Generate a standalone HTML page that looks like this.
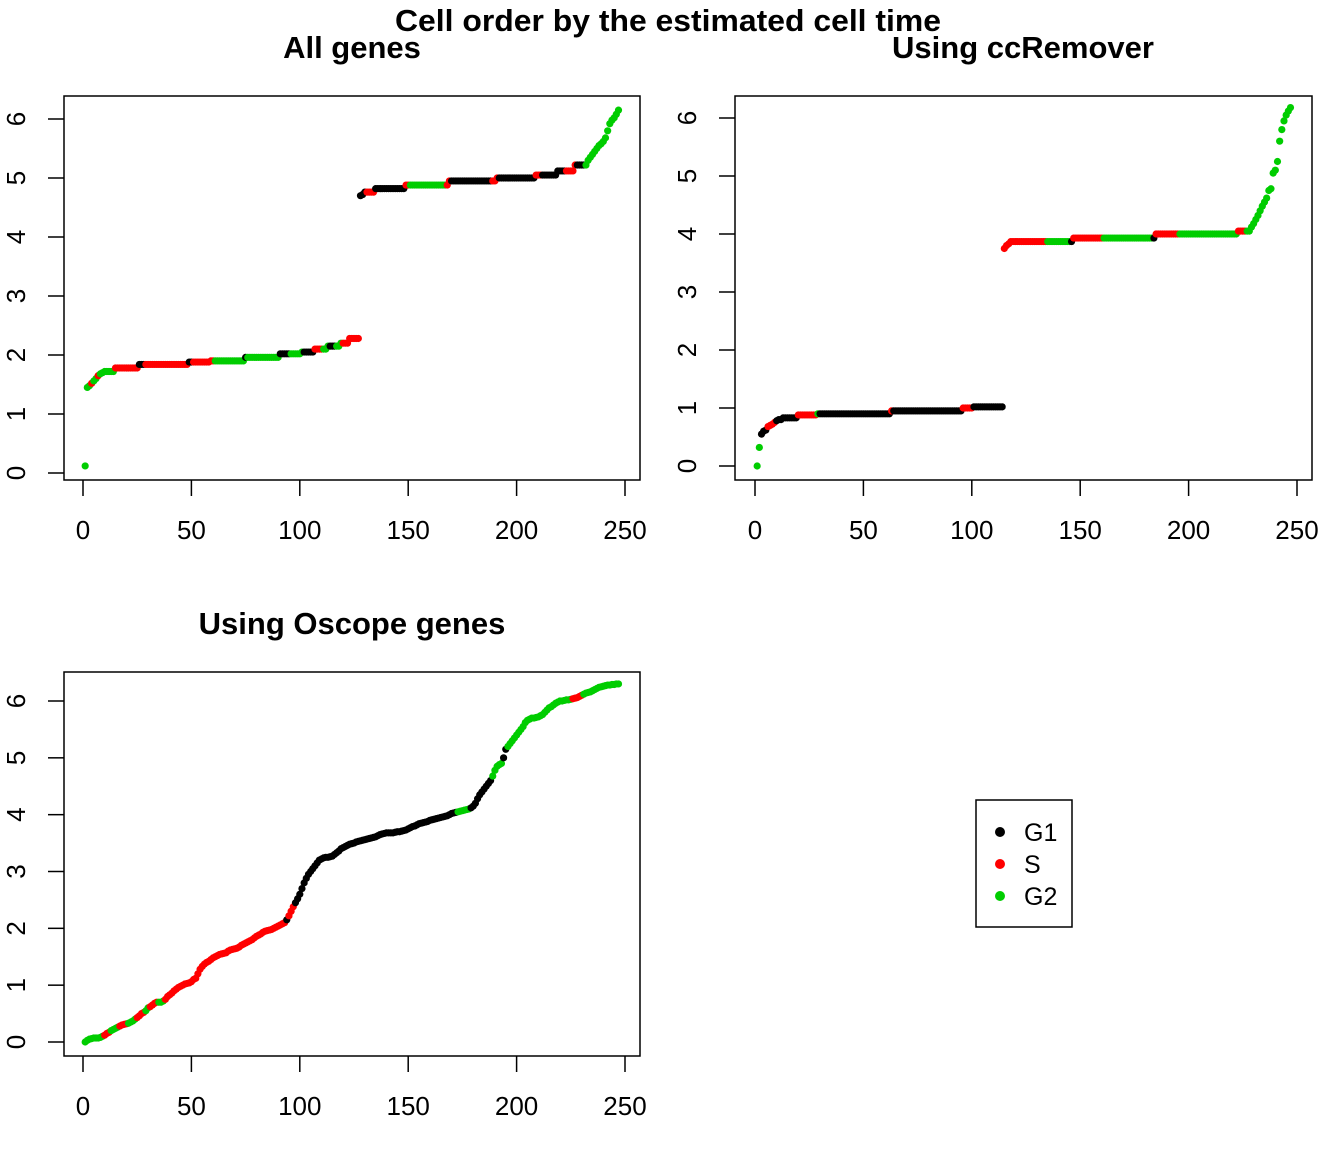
<!DOCTYPE html>
<html><head><meta charset="utf-8"><style>
html,body{margin:0;padding:0;background:#fff;}
svg text{font-family:"Liberation Sans",sans-serif;}
</style></head><body>
<svg id="chart" width="1344" height="1152" viewBox="0 0 1344 1152" xmlns="http://www.w3.org/2000/svg">
<rect width="1344" height="1152" fill="#fff"/>
<text x="668" y="31" font-size="31" font-weight="bold" text-anchor="middle" textLength="546" lengthAdjust="spacingAndGlyphs">Cell order by the estimated cell time</text>
<g>
<rect x="976" y="800" width="96" height="127" fill="#fff" stroke="#000" stroke-width="1.5"/>
<circle cx="1000" cy="832" r="5" fill="#000"/>
<text x="1024" y="841" font-size="25">G1</text>
<circle cx="1000" cy="864" r="5" fill="#FF0000"/>
<text x="1024" y="873" font-size="25">S</text>
<circle cx="1000" cy="896" r="5" fill="#00CD00"/>
<text x="1024" y="905" font-size="25">G2</text>
</g>
</svg>
<script>
// Panel 1 (All genes): run-length encoded values
const p1Values=[0.12,1.45,1.48,1.52,1.56,1.6,1.65,1.68,1.7,1.72,1.78,1.84,1.88,1.9,1.96,2.02,2.05,2.1,2.15,2.2,2.28,4.7,4.72,4.76,4.82,4.88,4.95,5.0,5.05,5.12,5.22,5.3,5.35,5.4,5.45,5.5,5.55,5.58,5.62,5.68,5.8,5.92,5.98,6.02,6.08,6.15];
const p1Counts=[1,1,1,1,1,1,1,1,1,5,11,23,10,16,16,10,6,6,6,4,5,1,1,5,14,20,22,18,10,8,6,1,1,1,1,1,1,1,1,1,1,1,1,1,1,1];
const p1Phases=["G2","G2","S","G2","S","G2","G2","S","B","S","B","S","G2","B","G2","B","G2","B","S","G2","B","G2","S","B","S","B","S","G2","S","B","S","B","S","B","S","B","G2"];
const p1PhaseCounts=[1,2,1,2,1,3,4,11,3,20,2,10,14,1,15,5,6,5,4,3,3,3,8,3,4,14,2,17,2,19,3,17,3,11,5,4,16];
// Panel 2 (ccRemover)
const p2Values=[0,0.32,0.55,0.6,0.62,0.68,0.7,0.72,0.75,0.78,0.8,0.83,0.88,0.9,0.95,1.0,1.02,3.75,3.8,3.83,3.87,3.93,4.0,4.05,4.12,4.18,4.25,4.32,4.4,4.48,4.55,4.62,4.75,4.78,5.05,5.1,5.25,5.6,5.8,5.95,6.05,6.12,6.18];
const p2Counts=[1,1,1,1,1,1,1,1,1,1,2,7,9,34,33,5,14,1,1,1,29,38,38,6,1,1,1,1,1,1,1,1,1,1,1,1,1,1,1,1,1,1,1];
const p2Phases=["G2","B","S","B","S","G2","B","S","B","S","B","S","G2","B","S","G2","B","S","G2","S","G2"];
const p2PhaseCounts=[2,3,4,10,9,1,33,1,32,5,14,20,11,1,14,23,1,11,27,4,21];
// Panel 3 (Oscope genes)
const p3Values=[0,0.03,0.05,0.06,0.07,0.07,0.07,0.08,0.1,0.12,
0.15,0.17,0.2,0.22,0.24,0.26,0.28,0.3,0.31,0.32,
0.33,0.35,0.37,0.4,0.43,0.46,0.5,0.52,0.55,0.6,
0.62,0.65,0.68,0.7,0.7,0.7,0.72,0.75,0.8,0.83,
0.86,0.9,0.93,0.96,0.98,1.0,1.02,1.03,1.04,1.06,
1.1,1.12,1.2,1.28,1.33,1.37,1.4,1.42,1.45,1.48,
1.5,1.52,1.54,1.55,1.56,1.57,1.6,1.62,1.63,1.64,
1.65,1.67,1.7,1.72,1.74,1.76,1.78,1.8,1.83,1.86,
1.88,1.9,1.93,1.95,1.96,1.97,1.98,2.0,2.02,2.04,
2.06,2.08,2.1,2.15,2.22,2.3,2.38,2.45,2.52,2.6,
2.7,2.8,2.88,2.95,3.0,3.05,3.1,3.15,3.2,3.22,
3.24,3.25,3.25,3.26,3.27,3.3,3.33,3.36,3.4,3.42,
3.44,3.46,3.48,3.49,3.5,3.52,3.53,3.54,3.55,3.56,
3.57,3.58,3.59,3.6,3.61,3.63,3.65,3.66,3.67,3.68,
3.68,3.68,3.68,3.69,3.7,3.7,3.71,3.72,3.73,3.75,
3.77,3.79,3.8,3.82,3.84,3.85,3.86,3.87,3.88,3.9,
3.91,3.92,3.93,3.94,3.95,3.96,3.97,3.98,4.0,4.02,
4.03,4.04,4.05,4.06,4.07,4.08,4.09,4.1,4.12,4.15,
4.2,4.28,4.35,4.4,4.45,4.5,4.55,4.6,4.68,4.78,
4.85,4.88,4.9,5.0,5.15,5.2,5.25,5.3,5.35,5.4,
5.45,5.5,5.55,5.62,5.66,5.68,5.7,5.7,5.71,5.72,
5.74,5.76,5.8,5.84,5.88,5.9,5.93,5.96,5.98,6.0,
6.0,6.01,6.02,6.02,6.03,6.04,6.05,6.06,6.08,6.1,
6.12,6.14,6.15,6.16,6.18,6.2,6.22,6.24,6.25,6.26,
6.27,6.28,6.28,6.29,6.29,6.3,6.3];
const p3Phases=["G2","S","G2","S","G2","S","G2","S","G2","S","B","S","B","G2","B","G2","B","G2","S","G2"];
const p3PhaseCounts=[9,3,4,4,4,4,2,4,3,56,1,3,75,6,10,5,2,30,5,17];
const xTicks=[0,50,100,150,200,250];
const yTicks=[0,1,2,3,4,5,6];
const phaseColors={B:"#000000",S:"#FF0000",G2:"#00CD00"};

const NS="http://www.w3.org/2000/svg";
const svg=document.getElementById('chart');
function mk(tag,attrs,parent){const e=document.createElementNS(NS,tag);for(const k in attrs)e.setAttribute(k,attrs[k]);(parent||svg).appendChild(e);return e;}
function expand(vals,counts){const out=[];vals.forEach((v,i)=>{for(let k=0;k<counts[i];k++)out.push(v);});return out;}

const panels=[
 {id:"all-genes",title:"All genes",vals:p1Values,cnt:p1Counts,ph:p1Phases,pc:p1PhaseCounts,box:[64,96,640,480],x0:83,x1:625,y0:473,y6:119,tx:352,ty:58},
 {id:"ccremover",title:"Using ccRemover",vals:p2Values,cnt:p2Counts,ph:p2Phases,pc:p2PhaseCounts,box:[735,96,1312,480],x0:755,x1:1297,y0:466,y6:118,tx:1023,ty:58},
 {id:"oscope",title:"Using Oscope genes",vals:p3Values,cnt:null,ph:p3Phases,pc:p3PhaseCounts,box:[64,672,640,1056],x0:83,x1:625,y0:1042,y6:701,tx:352,ty:634}
];
panels.forEach(p=>{
 const g=mk('g',{});
 
 
 const xs=v=>p.x0+(p.x1-p.x0)*v/250;
 const ys=v=>p.y0+(p.y6-p.y0)*v/6;
 const t=mk('text',{x:p.tx,y:p.ty,'font-size':31,'font-weight':'bold','text-anchor':'middle'},g);
 t.textContent=p.title;
 
 
 const [bx0,by0,bx1,by1]=p.box;
 const r=mk('rect',{x:bx0,y:by0,width:bx1-bx0,height:by1-by0,fill:'none',stroke:'#000','stroke-width':1.5},g);
 
 
 xTicks.forEach(v=>{
  const l=mk('line',{x1:xs(v),x2:xs(v),y1:by1,y2:by1+16,stroke:'#000','stroke-width':1.5},g);
  
  
  const tl=mk('text',{x:xs(v),y:by1+59,'font-size':26,'text-anchor':'middle'},g);
  tl.textContent=v;
  
  
 });
 yTicks.forEach(v=>{
  const l=mk('line',{x1:bx0-16,x2:bx0,y1:ys(v),y2:ys(v),stroke:'#000','stroke-width':1.5},g);
  
  
  const tl=mk('text',{x:0,y:0,'font-size':26,'text-anchor':'middle',transform:`translate(${bx0-39},${ys(v)}) rotate(-90)`},g);
  tl.textContent=v;
  
  
 });
 const ys_=p.cnt?expand(p.vals,p.cnt):p.vals;
 const phases=expand(p.ph,p.pc);
 ys_.forEach((v,i)=>{
  const c=mk('circle',{cx:xs(i+1),cy:ys(v),r:3.6,fill:phaseColors[phases[i]]||'#000'},g);
  
  
 });
});
</script>
</body></html>
